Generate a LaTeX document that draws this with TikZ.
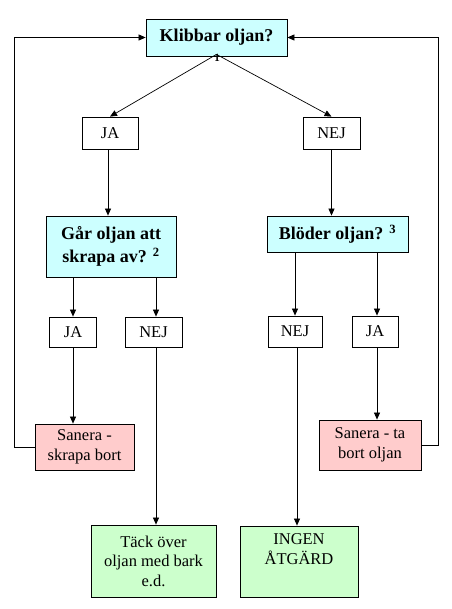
\documentclass[tikz,border=0pt]{standalone}
\usepackage{fontspec}
\setmainfont{Liberation Serif}
\usetikzlibrary{arrows.meta}
\definecolor{qcyan}{HTML}{CCFFFF}
\definecolor{qpink}{HTML}{FFCCCC}
\definecolor{qgreen}{HTML}{CCFFCC}
\tikzset{
  box/.style={draw=black, line width=0.8pt, rectangle, inner sep=0pt, align=center,
    font=\fontsize{16.5}{19.5}\selectfont},
  qbox/.style={box, fill=qcyan, font=\fontsize{18}{23}\selectfont\bfseries},
  pbox/.style={box, fill=qpink},
  gbox/.style={box, fill=qgreen},
  arr/.style={draw=black, line width=0.7pt, -{Triangle[length=7pt,width=6pt]}},
}
\begin{document}
\begin{tikzpicture}[x=1pt,y=-1pt]
\useasboundingbox (0,0) rectangle (451,609);
\node[qbox, minimum width=141pt, minimum height=37pt] (klib) at (216.5,37.5) {Klibbar oljan?};
\node[box, minimum width=56pt, minimum height=32pt] (ja1) at (110,133) {JA};
\node[box, minimum width=57pt, minimum height=32pt] (nej1) at (331.5,133) {NEJ};
\node[qbox, minimum width=130pt, minimum height=61pt] (gar) at (111,246.5) {Går oljan att\\skrapa av? \textsuperscript{2}};
\node[qbox, minimum width=141pt, minimum height=36pt] (blod) at (337.5,234) {Blöder oljan? \textsuperscript{3}};
\node[box, minimum width=47pt, minimum height=30pt] (ja2) at (73,332) {JA};
\node[box, minimum width=57pt, minimum height=30pt] (nej2) at (153.5,332) {NEJ};
\node[box, minimum width=54pt, minimum height=31pt] (nej3) at (295,331.5) {NEJ};
\node[box, minimum width=46pt, minimum height=31pt] (ja3) at (375,331.5) {JA};
\node[pbox, minimum width=99pt, minimum height=46pt] (san1) at (84.5,447) {Sanera -\\skrapa bort};
\node[pbox, minimum width=102pt, minimum height=50pt] (san2) at (370,445) {Sanera - ta\\bort oljan};
\node[gbox, minimum width=125pt, minimum height=72pt] (tack) at (153.5,561) {Täck över\\oljan med bark\\e.d.};
\node[gbox, minimum width=118pt, minimum height=71pt] (ingen) at (299,561.5) {INGEN\\ÅTGÄRD\\\strut};
\coordinate (lc) at (14,0);
\coordinate (rc) at (438,0);
\draw[arr] (san1.west) -| (lc |- klib.west) -- (klib.west);
\draw[arr] (san2.east) -| (rc |- klib.east) -- (klib.east);
\draw[arr] ([yshift=2pt]klib.south) -- (ja1.north);
\draw[arr] ([yshift=2pt]klib.south) -- (nej1.north);
\draw[arr] ([xshift=-2pt]ja1.south) -- ([xshift=-2pt]ja1.south |- gar.north);
\draw[arr] (nej1.south) -- (nej1.south |- blod.north);
\draw[arr] (ja2.north |- gar.south) -- (ja2.north);
\draw[arr] ([xshift=2.5pt]nej2.north |- gar.south) -- ([xshift=2.5pt]nej2.north);
\draw[arr] (nej3.north |- blod.south) -- (nej3.north);
\draw[arr] ([xshift=2pt]ja3.north |- blod.south) -- ([xshift=2pt]ja3.north);
\draw[arr] (ja2.south) -- (ja2.south |- san1.north);
\draw[arr] ([xshift=2.5pt]nej2.south) -- ([xshift=2.5pt]nej2.south |- tack.north);
\draw[arr] ([xshift=2pt]nej3.south) -- ([xshift=2pt]nej3.south |- ingen.north);
\draw[arr] ([xshift=2pt]ja3.south) -- ([xshift=2pt]ja3.south |- san2.north);
\node[font=\fontsize{11}{11}\selectfont\bfseries, inner sep=0pt] (sup1) at (217,57.5) {1};
\end{tikzpicture}
\end{document}
